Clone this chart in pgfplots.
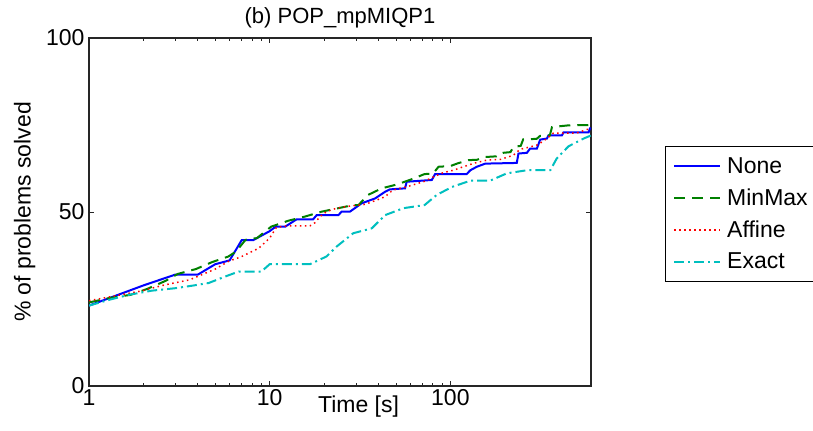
\documentclass[border=0pt]{standalone}
\usepackage{pgfplots}
\pgfplotsset{compat=1.18}
\usepackage{fontspec}
\setmainfont{Liberation Sans}
\definecolor{mblue}{RGB}{0,0,255}
\definecolor{mgreen}{RGB}{0,128,0}
\definecolor{mred}{RGB}{255,0,0}
\definecolor{mcyan}{RGB}{0,191,191}
\begin{document}
\begin{tikzpicture}
\path[use as bounding box] (0,0) rectangle (813bp,431bp);
\begin{axis}[
  at={(89bp,45bp)}, anchor=south west,
  scale only axis, width=502bp, height=348bp,
  xmode=log, xmin=1, xmax=600, ymin=0, ymax=100,
  xtick={1,10,100}, xticklabels={1,10,100},
  ytick={0,50,100},
  /pgf/number format/assume math mode=true,
  font=\fontsize{23bp}{27bp}\selectfont,
  tick align=inside, major tick length=5bp, minor tick length=3bp,
  axis line style={line width=1.2bp, black!85},
  tick style={line width=0.8bp, black!85},
  yticklabel style={xshift=-1bp},
  title={(b) POP\_mpMIQP1},
  title style={at={(axis description cs:0.5,1)}, anchor=south, yshift=0bp, font=\fontsize{22bp}{26bp}\selectfont},
  xlabel={Time [s]},
  xlabel style={at={(axis description cs:0.537,0)}, anchor=north, yshift=-6bp},
  ylabel={\% of problems solved},
  ylabel style={at={(axis description cs:-0.1,0.5)}, anchor=south},
  legend style={at={(axis description cs:1.147,0.69)}, anchor=north west, draw=black, line width=0.8bp, fill=white,
    font=\fontsize{23bp}{27bp}\selectfont, row sep=10bp, inner ysep=9bp, inner xsep=8bp, cells={anchor=west}},
  legend cell align=left,
  legend image code/.code={\draw[#1] (0bp,0bp) -- (46bp,0bp); \path (50bp,0bp);},
]
\addplot[mblue, line width=2bp] coordinates {
(1,23.1) (2,28.9) (3,32) (4,32) (5,35) (6,36.1) (7,41.9) (8.1,41.9) (10,44.5) (10.8,45.8) (12.2,45.8) (14.1,47.9) (17.4,47.9) (18.2,49.1) (24,49.1) (25,50.1) (27.8,50.1) (32.3,52.5) (38.3,53.9) (43.5,55.8) (46.3,56.5) (56.1,56.8) (57.3,58.7) (78.9,59.2) (82.3,60.9) (123,60.9) (129,62) (140,63) (156,63.9) (233,64.1) (238,66.8) (265,67) (276,68.2) (301,68.2) (314,70.8) (342,71.1) (349,72) (414,72) (423,72.9) (582,72.9) (592,74) (600,74)
};
\addlegendentry{None}
\addplot[mgreen, line width=2bp, dash pattern=on 11bp off 7bp] coordinates {
(1,24) (1.3,25.3) (1.7,26.2) (2.1,27.9) (2.65,30.2) (3.1,32.2) (3.9,33.6) (4.8,35.6) (5.9,37.2) (6.5,38.6) (7.35,42) (8.5,42.5) (10.2,45.8) (12.7,47.5) (15.7,48.7) (19.4,50.1) (24,51.1) (29,52) (31,52) (35,54.9) (41.7,56.8) (50.5,57.9) (61,59.4) (72,60.9) (80,61) (86,63) (100,63.2) (110,64) (126,64.9) (140,65) (156,65.8) (180,66) (195,67) (215,67.2) (223,68.7) (245,69) (253,70.9) (300,71) (314,71.9) (355,72) (365,74.4) (450,74.9) (600,75)
};
\addlegendentry{MinMax}
\addplot[color=mred, draw=mred, line width=1.5bp, dash pattern=on 1.5bp off 3.5bp] coordinates {
(1,24.5) (1.9,27.2) (2.65,29.1) (3.6,30.5) (4,31.5) (5,33.6) (5.9,35.8) (7,37.2) (8.7,39.6) (10,42.5) (10.9,45.6) (12.4,46) (16.7,46) (17.8,46.9) (19,48.7) (20.6,50.1) (23.5,51.1) (27.8,51.7) (33.7,52.2) (39,53.4) (43.5,54.4) (48,56.3) (57,57.2) (71,58.7) (80,60) (91,61.3) (104,62) (118,63) (137,64.1) (159,64.9) (189,65.1) (223,66.3) (243,68) (276,68.7) (300,69.2) (321,70.1) (340,71) (372,72.7) (500,72.7) (570,73.7) (600,74)
};
\addlegendentry{Affine}
\addplot[mcyan, line width=2bp, dash pattern=on 10bp off 4bp on 2bp off 4bp] coordinates {
(1,23.1) (1.3,24.8) (1.66,26.2) (2.23,27.4) (3,28.1) (3.7,28.8) (4.6,29.6) (5.7,31.5) (6.75,32.9) (9,32.9) (10,35) (16.7,35) (20.6,37.2) (23.5,40.1) (29,43.9) (36.7,45.3) (43.5,49.1) (55,51.1) (72,52) (84,54.9) (102,57.2) (129,59) (166,59) (205,61.1) (265,62) (357,62) (388,65.4) (451,68.9) (546,71.1) (600,72)
};
\addlegendentry{Exact}
\end{axis}
\end{tikzpicture}
\end{document}
